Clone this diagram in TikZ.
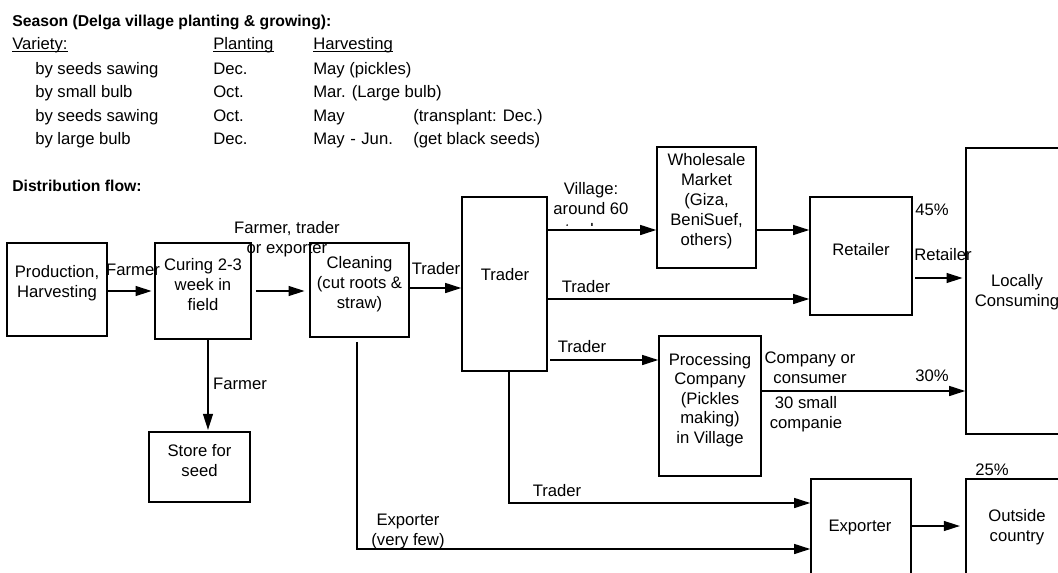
\documentclass[tikz,border=0pt]{standalone}
\usepackage{fontspec}
\setmainfont{Liberation Sans}
\usetikzlibrary{arrows.meta,fit}
\begin{document}
\begin{tikzpicture}[x=0.75pt,y=-0.75pt,
  font=\fontsize{12.5}{15}\selectfont,
  box/.style={draw,line width=1.2pt,inner sep=0pt,align=center},
  flow/.style={line width=0.9pt,-{Triangle[length=12pt,width=7.5pt]}},
  lbl/.style={inner sep=0pt,align=center},
  hd/.style={inner sep=0pt,anchor=base west},
  bold/.style={font=\fontsize{11.8}{15}\selectfont\bfseries},
  uline/.style={line width=0.8pt},
]
\useasboundingbox (0,0) rectangle (1058,572);
\clip (0,0) rectangle (1058,572);

% ---------- season table ----------
\node[hd,bold] (title) at (12,26) {Season (Delga village planting \& growing):};
\node[hd] (hv) at (12,49) {Variety:};
\node[hd] (hp) at (213,49) {Planting};
\node[hd] (hh) at (313,49) {Harvesting};
\foreach \n in {hv,hp,hh}
  \draw[uline] ([yshift=-2pt]\n.base west) -- ([yshift=-2pt]\n.base east);

\node[hd] (v1) at (35,74) {by seeds sawing};
\node[hd] (p1) at (213,74) {Dec.};
\node[hd] (h1) at (313,74) {May (pickles)};
\node[hd] (v2) at (35,97) {by small bulb};
\node[hd] (p2) at (213,97) {Oct.};
\node[hd] (h2) at (313,97) {Mar. (Large bulb)};
\node[hd] (v3) at (35,121) {by seeds sawing};
\node[hd] (p3) at (213,121) {Oct.};
\node[hd] (h3) at (313,121) {May};
\node[hd] (n3) at (413,121) {(transplant: Dec.)};
\node[hd] (v4) at (35,144) {by large bulb};
\node[hd] (p4) at (213,144) {Dec.};
\node[hd] (h4) at (313,144) {May\,\,-\,\,Jun.};
\node[hd] (n4) at (413,144) {(get black seeds)};

\node[hd,bold] (dflow) at (12,191) {Distribution flow:};

% ---------- boxes ----------
\node[box,fit={(7,243)(107,336)}] (prod) {Production,\\Harvesting};
\node[box,fit={(155,243)(251,339)}] (cure) {Curing 2-3\\week in\\field};
\node[box,fit={(310,243)(409,337)}] (clean) {Cleaning\\(cut roots \&\\straw)};
\node[box,fit={(462,197)(547,371)}] (trader) {};
\node[lbl] (tradertxt) at (505,275) {Trader};
\node[box,fit={(657,147)(756,268)}] (whole) {Wholesale\\Market\\(Giza,\\BeniSuef,\\others)};
\node[box,fit={(810,197)(912,315)}] (retail) {Retailer};
\node[box,fit={(966,148)(1080,434)}] (local) {};
\node[lbl] (localtxt) at (1017,292) {Locally\\Consuming};
\node[box,fit={(659,336)(761,476)},font=\fontsize{12.5}{14.6}\selectfont] (proc) {Processing\\Company\\(Pickles\\making)\\in Village};
\node[box,fit={(149,432)(250,502)}] (store) {Store for\\seed};
\node[box,fit={(811,479)(911,600)}] (exp) {};
\node[lbl] (exptxt) at (860,527) {Exporter};
\node[box,fit={(966,479)(1080,600)}] (out) {};
\node[lbl] (outtxt) at (1017,527.5) {Outside\\country};

% ---------- connector levels ----------
\coordinate (r230) at (0,230);
\coordinate (r278) at (0,278);
\coordinate (r288) at (0,288);
\coordinate (r291) at (0,291);
\coordinate (r299) at (0,299);
\coordinate (r360) at (0,360);
\coordinate (r391) at (0,391);
\coordinate (r503) at (0,503);
\coordinate (r526) at (0,526);
\coordinate (r549) at (0,549);
\coordinate (k208) at (208,0);
\coordinate (k357) at (357,0);
\coordinate (k509) at (509,0);

% ---------- connectors ----------
\draw[flow,shorten >=2pt] (prod.east |- r291) -- (cure.west |- r291);
\draw[flow,shorten <=3pt,shorten >=3.5pt] (cure.east |- r291) -- (clean.west |- r291);
\draw[flow] (clean.east |- r288) -- (trader.west |- r288);
\draw[flow,shorten >=1pt] (cure.south -| k208) -- (store.north -| k208);
\draw[flow] (trader.east |- r230) -- (whole.west |- r230);
\draw[flow] (trader.east |- r299) -- (retail.west |- r299);
\draw[flow,shorten <=2pt] (trader.east |- r360) -- (proc.west |- r360);
\draw[flow] (whole.east |- r230) -- (retail.west |- r230);
\draw[flow,shorten <=2pt,shorten >=2pt] (retail.east |- r278) -- (local.west |- r278);
\draw[flow] (proc.east |- r391) -- (local.west |- r391);
\draw[flow,shorten <=3pt] (clean.south -| k357) |- (exp.west |- r549);
\draw[flow] (trader.south -| k509) |- (exp.west |- r503);
\draw[flow,shorten >=4pt] (exp.east |- r526) -- (out.west |- r526);

% ---------- connector labels ----------
\node[lbl] (lfarm1) at (133,270) {Farmer};
\node[lbl] (lfto) at (287,239) {Farmer, trader\\or exporter};
\node[lbl] (ltr1) at (436,269) {Trader};
\node[lbl] (lfarm2) at (240,384) {Farmer};
\node[lbl] (lvil) at (591,198.5) {Village:\\around 60};
\begin{scope}
  % third line of the label is cut off by its text frame
  \clip (540,200) rectangle (650,225.3);
  \node[lbl,anchor=base] (lvil3) at (591,235) {traders};
\end{scope}
\node[lbl] (ltr2) at (586,287) {Trader};
\node[lbl] (ltr3) at (582,347) {Trader};
\node[lbl] (lcomp) at (810,367.5) {Company or\\consumer};
\node[lbl] (lsmall) at (806,414.5) {30 small\\companie};
\node[lbl] (p30) at (932,376) {30\%};
\node[lbl] (p45) at (932,210) {45\%};
\node[lbl] (lret) at (943,255) {Retailer};
\node[lbl] (p25) at (992,470) {25\%};
\node[lbl] (ltr4) at (557,491) {Trader};
\node[lbl] (lexp) at (408,531) {Exporter\\(very few)};
\end{tikzpicture}
\end{document}
